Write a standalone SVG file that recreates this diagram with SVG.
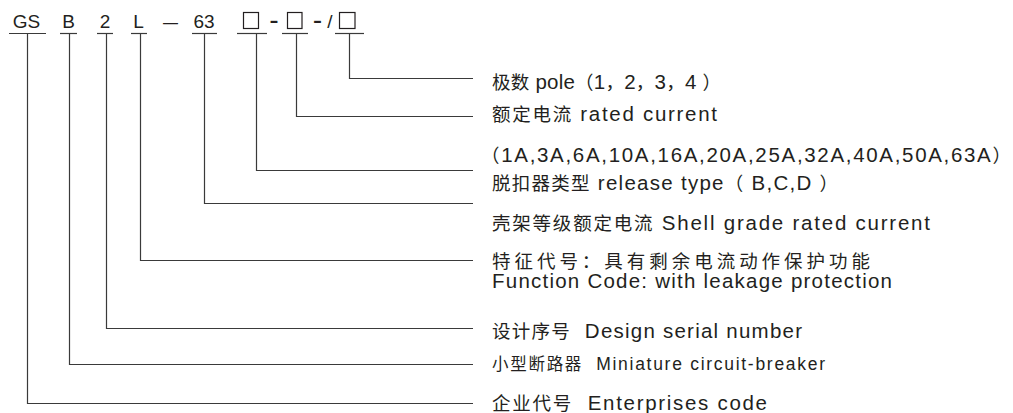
<svg xmlns="http://www.w3.org/2000/svg" width="1013" height="413" viewBox="0 0 1013 413">
<style>
text{font-family:"Liberation Sans","Noto Sans CJK SC",sans-serif;fill:#231f20;font-size:19px;white-space:pre}
.lb{font-size:20.5px}
.cj{font-size:18.5px}
.code{text-anchor:middle}
.ul{stroke:#3a3a3a;stroke-width:1.2;fill:none}
.box{stroke:#231f20;stroke-width:1.2;fill:none}
.con{stroke:#3a3a3a;stroke-width:1.2;fill:none}
.sm{font-size:17.5px}
.smc{font-size:16.5px}
</style>
<rect width="1013" height="413" fill="#fff"/>
<g id="code">
  <g id="code-gs"><text class="code" x="26.5" y="28">GS</text><line class="ul" x1="9" y1="33.5" x2="46" y2="33.5"/></g>
  <g id="code-b"><text class="code" x="68.5" y="28">B</text><line class="ul" x1="60" y1="33.5" x2="77" y2="33.5"/></g>
  <g id="code-2"><text class="code" x="105" y="28">2</text><line class="ul" x1="97" y1="33.5" x2="113" y2="33.5"/></g>
  <g id="code-l"><text class="code" x="138.5" y="28">L</text><line class="ul" x1="131" y1="33.5" x2="147" y2="33.5"/></g>
  <g id="code-dash"><text class="code" x="170.5" y="28" textLength="15" lengthAdjust="spacingAndGlyphs">—</text></g>
  <g id="code-63"><text class="code" x="204" y="28">63</text><line class="ul" x1="192" y1="33.5" x2="217" y2="33.5"/></g>
  <g id="code-box1"><rect class="box" x="243.5" y="12.5" width="15" height="16"/><line class="ul" x1="237" y1="33.5" x2="267" y2="33.5"/></g>
  <g id="code-sep1"><text class="code" x="274" y="27" font-weight="bold" font-size="20" textLength="9" lengthAdjust="spacingAndGlyphs">-</text></g>
  <g id="code-box2"><rect class="box" x="287.5" y="12.5" width="14.5" height="16"/><line class="ul" x1="282" y1="33.5" x2="308" y2="33.5"/></g>
  <g id="code-sep2"><text class="code" x="317.5" y="27" font-weight="bold" font-size="20" textLength="9" lengthAdjust="spacingAndGlyphs">-</text></g>
  <g id="code-slash"><text class="code" x="330" y="28">/</text></g>
  <g id="code-box3"><rect class="box" x="339.5" y="12.5" width="15.5" height="16"/><line class="ul" x1="335" y1="33.5" x2="364" y2="33.5"/></g>
</g>
<g id="connectors">
  <polyline class="con" points="349.5,33.5 349.5,78.5 473,78.5"/>
  <polyline class="con" points="296.5,33.5 296.5,116.5 473,116.5"/>
  <polyline class="con" points="256.5,33.5 256.5,170.5 473,170.5"/>
  <polyline class="con" points="204.5,33.5 204.5,203.5 473,203.5"/>
  <polyline class="con" points="140.5,33.5 140.5,260.5 473,260.5"/>
  <polyline class="con" points="106.5,33.5 106.5,328.5 473,328.5"/>
  <polyline class="con" points="69.5,33.5 69.5,364.5 473,364.5"/>
  <polyline class="con" points="27.5,33.5 27.5,403.5 473,403.5"/>
</g>
<g id="label-pole"><text class="lb" x="492" y="89" textLength="229" lengthAdjust="spacing"><tspan class="cj">极数</tspan> pole<tspan class="cj">（</tspan>1<tspan class="cj">，</tspan>2<tspan class="cj">，</tspan>3<tspan class="cj">，</tspan>4 <tspan class="cj">）</tspan></text></g>
<g id="label-rated"><text class="lb" x="492" y="121" textLength="225" lengthAdjust="spacing"><tspan class="cj">额定电流</tspan> rated current</text>
  <text class="lb" x="481" y="162" textLength="530" lengthAdjust="spacing"><tspan class="cj">（</tspan>1A,3A,6A,10A,16A,20A,25A,32A,40A,50A,63A<tspan class="cj">）</tspan></text></g>
<g id="label-release"><text class="lb" x="492" y="190" textLength="346" lengthAdjust="spacing"><tspan class="cj">脱扣器类型</tspan> release type<tspan class="cj">（</tspan> B,C,D <tspan class="cj">）</tspan></text></g>
<g id="label-shell"><text class="lb" x="492" y="230" textLength="438" lengthAdjust="spacing"><tspan class="cj">壳架等级额定电流</tspan> Shell grade rated current</text></g>
<g id="label-function"><text class="lb" x="492" y="268" textLength="378" lengthAdjust="spacing"><tspan class="cj">特征代号：具有剩余电流动作保护功能</tspan></text>
  <text class="lb" x="492" y="288" textLength="400" lengthAdjust="spacing">Function Code: with leakage protection</text></g>
<g id="label-design"><text class="lb" x="492" y="338" textLength="310" lengthAdjust="spacing"><tspan class="cj">设计序号</tspan>  Design serial number</text></g>
<g id="label-mcb"><text class="sm" x="492" y="370" textLength="333" lengthAdjust="spacing"><tspan class="smc">小型断路器</tspan>  Miniature circuit-breaker</text></g>
<g id="label-enterprise"><text class="lb" x="492" y="410" textLength="275" lengthAdjust="spacing"><tspan class="cj">企业代号</tspan>  Enterprises code</text></g>
</svg>
